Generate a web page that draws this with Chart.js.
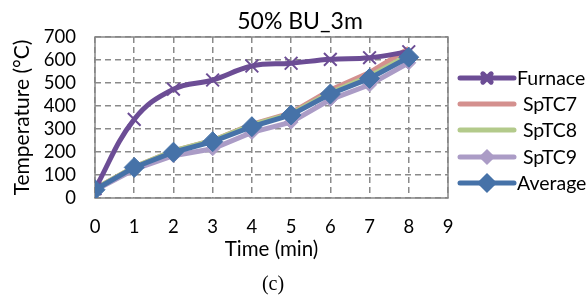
<!DOCTYPE html>
<html>
<head>
<meta charset="utf-8">
<script src="https://cdn.jsdelivr.net/npm/chart.js@4/dist/chart.umd.min.js"></script>
<style>
  html, body { margin: 0; padding: 0; background: #fff; }
  #wrap { width: 588px; height: 298px; }
</style>
</head>
<body>
<div id="wrap"><canvas id="fig"></canvas></div>
<script>
// time in minutes, temperatures in °C
const times = [0, 1, 2, 3, 4, 5, 6, 7, 8];
const furnace = [40, 342, 473, 513, 574, 586, 603, 610, 636];
const sptc7 = [40, 135, 205, 250, 320, 370, 470, 545, 650];
const sptc8 = [40, 135, 205, 250, 318, 366, 458, 530, 622];
const sptc9 = [34, 124, 184, 214, 285, 330, 428, 492, 588];
const average = [36, 133, 199, 245, 310, 361, 452, 520, 612];

const xTicks = [0, 1, 2, 3, 4, 5, 6, 7, 8, 9];
const yTicks = [0, 100, 200, 300, 400, 500, 600, 700];

const pts = arr => arr.map((v, i) => ({ x: times[i], y: v }));
const FONT = "Lato, 'Open Sans', sans-serif";

// legend with line + marker, like the excel one
const sideLegend = {
  id: 'sideLegend',
  afterDraw(chart) {
    const ctx = chart.ctx;
    const ys = [78, 104, 130, 157, 183];
    ctx.save();
    chart.data.datasets.forEach((ds, k) => {
      const y = ys[k];
      ctx.strokeStyle = ds.borderColor;
      ctx.lineWidth = 5;
      ctx.lineCap = 'round';
      ctx.beginPath();
      ctx.moveTo(460, y);
      ctx.lineTo(514, y);
      ctx.stroke();
      if (ds.pointRadius > 0) {
        ctx.fillStyle = ds.pointBackgroundColor;
        ctx.strokeStyle = ds.pointBorderColor;
        Chart.helpers.drawPoint(ctx, {
          pointStyle: ds.pointStyle,
          radius: ds.pointRadius * 0.65,
          borderWidth: ds.pointBorderWidth || 1
        }, 487, y);
      }
      ctx.fillStyle = '#000';
      ctx.font = '19.5px ' + FONT;
      ctx.textBaseline = 'middle';
      ctx.textAlign = 'left';
      ctx.fillText(ds.label, ds.label === 'Furnace' || ds.label === 'Average' ? 517 : 523, y + 1);
    });
    ctx.restore();
  }
};

// solid box round the plot plus the figure texts
const frameAndText = {
  id: 'frameAndText',
  beforeDatasetsDraw(chart) {
    const { ctx, chartArea: a } = chart;
    ctx.save();
    ctx.strokeStyle = '#868686';
    ctx.lineWidth = 1.5;
    ctx.strokeRect(a.left, a.top, a.right - a.left, a.bottom - a.top);
    ctx.restore();
  },
  afterDraw(chart) {
    const ctx = chart.ctx;
    ctx.save();
    ctx.fillStyle = '#000';
    ctx.textAlign = 'center';
    ctx.textBaseline = 'middle';
    ctx.font = '23px ' + FONT;
    ctx.fillText('50% BU_3m', 300, 22);
    ctx.font = "20px 'Liberation Serif', serif";
    ctx.fillText('(c)', 273, 285);
    ctx.restore();
  }
};

new Chart(document.getElementById('fig'), {
  type: 'line',
  data: {
    datasets: [
      {
        label: 'Furnace', data: pts(furnace), order: 2,
        borderColor: '#6c4d95', borderWidth: 5, tension: 0.4,
        pointStyle: 'crossRot', pointRadius: 9, pointBorderWidth: 2,
        pointBorderColor: '#6c4d95', pointBackgroundColor: '#6c4d95'
      },
      {
        label: 'SpTC7', data: pts(sptc7), order: 4,
        borderColor: '#d4908e', borderWidth: 5, pointRadius: 0
      },
      {
        label: 'SpTC8', data: pts(sptc8), order: 3,
        borderColor: '#b3ca8b', borderWidth: 5, pointRadius: 0
      },
      {
        label: 'SpTC9', data: pts(sptc9), order: 5,
        borderColor: '#ab9cc6', borderWidth: 5,
        pointStyle: 'rectRot', pointRadius: 7, pointBorderWidth: 1,
        pointBorderColor: '#ab9cc6', pointBackgroundColor: '#ab9cc6'
      },
      {
        label: 'Average', data: pts(average), order: 1,
        borderColor: '#4672a8', borderWidth: 5,
        pointStyle: 'rectRot', pointRadius: 10, pointBorderWidth: 1,
        pointBorderColor: '#4672a8', pointBackgroundColor: '#4672a8'
      }
    ]
  },
  options: {
    responsive: true,
    maintainAspectRatio: false,
    animation: false,
    layout: { padding: { top: 37, right: 140, left: 0, bottom: 36 } },
    plugins: { legend: { display: false }, tooltip: { enabled: false } },
    scales: {
      x: {
        type: 'linear', min: 0, max: 9,
        afterBuildTicks: s => { s.ticks = xTicks.map(v => ({ value: v })); },
        afterFit: s => { s.height = 64; },
        ticks: { color: '#000', font: { family: FONT, size: 18.5 }, padding: 18, autoSkip: false, maxRotation: 0 },
        grid: { color: '#8a8a8a', lineWidth: 1.5, drawTicks: false },
        border: { display: false, dash: [6, 4] },
        title: { display: true, text: 'Time (min)', color: '#000', font: { family: FONT, size: 20.5 }, padding: 0 }
      },
      y: {
        min: 0, max: 700,
        afterBuildTicks: s => { s.ticks = yTicks.map(v => ({ value: v })); },
        afterFit: s => { s.width = 95; },
        ticks: { color: '#000', font: { family: FONT, size: 18.5 }, padding: 19, autoSkip: false },
        grid: { color: '#8a8a8a', lineWidth: 1.5, drawTicks: false },
        border: { display: false, dash: [6, 4] },
        title: { display: true, text: 'Temperature (°C)', color: '#000', font: { family: FONT, size: 21 }, padding: { top: 10, bottom: 0 } }
      }
    }
  },
  plugins: [sideLegend, frameAndText]
});
</script>
</body>
</html>
